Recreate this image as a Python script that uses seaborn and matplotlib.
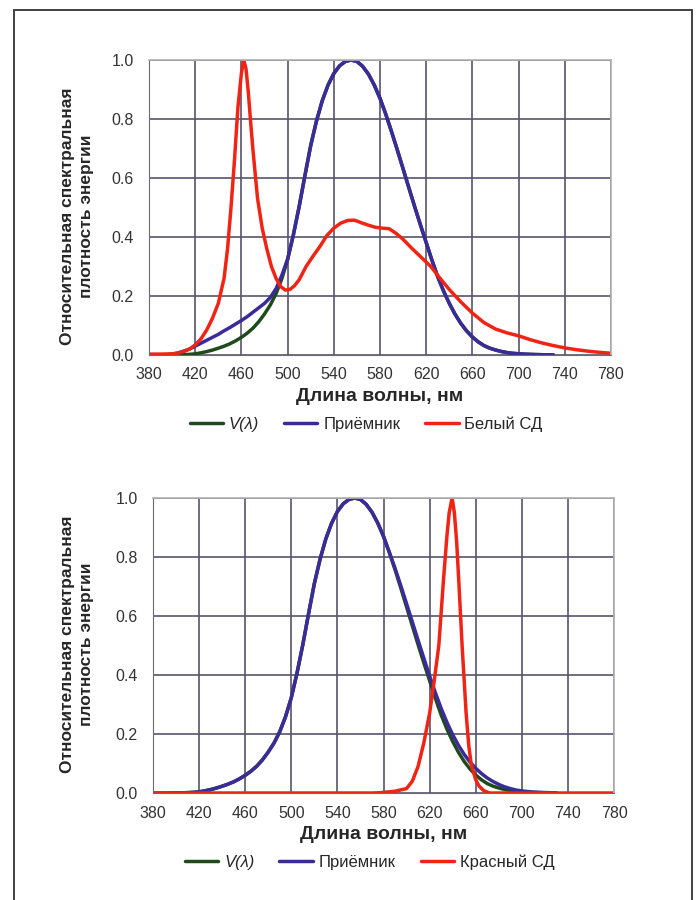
import numpy as np
import pandas as pd
import matplotlib
matplotlib.use("Agg")
import matplotlib.pyplot as plt
from matplotlib.patches import Rectangle
import seaborn as sns

# --- data ---
# V(lambda), photopic curve, 5 nm steps 380..730
wl_v = [380, 385, 390, 395, 400, 405, 410, 415, 420, 425, 430, 435, 440, 445,
        450, 455, 460, 465, 470, 475, 480, 485, 490, 495, 500, 505, 510, 515,
        520, 525, 530, 535, 540, 545, 550, 555, 560, 565, 570, 575, 580, 585,
        590, 595, 600, 605, 610, 615, 620, 625, 630, 635, 640, 645, 650, 655,
        660, 665, 670, 675, 680, 685, 690, 695, 700, 705, 710, 715, 720, 725, 730]
v_lambda = [0.0, 0.0001, 0.0001, 0.0002, 0.0004, 0.0006, 0.0012, 0.0022, 0.004,
            0.0073, 0.0116, 0.0168, 0.023, 0.0298, 0.038, 0.048, 0.06, 0.0739,
            0.091, 0.1126, 0.139, 0.1693, 0.208, 0.2586, 0.323, 0.4073, 0.503,
            0.6082, 0.71, 0.7932, 0.862, 0.9149, 0.954, 0.9803, 0.995, 1.0,
            0.995, 0.9786, 0.952, 0.9154, 0.87, 0.8163, 0.757, 0.6949, 0.631,
            0.5668, 0.503, 0.4412, 0.381, 0.321, 0.265, 0.217, 0.175, 0.1382,
            0.107, 0.0816, 0.061, 0.0446, 0.032, 0.0232, 0.017, 0.0119, 0.0082,
            0.0057, 0.0041, 0.0029, 0.0021, 0.0015, 0.001, 0.0007, 0.0005]

# receiver, top chart (extra response in the blue)
wl_rx = wl_v[3:]
rx_top = [0.0005, 0.003, 0.007, 0.013, 0.02, 0.03, 0.04, 0.05, 0.06, 0.07,
          0.082, 0.093, 0.105, 0.117, 0.13, 0.145, 0.16, 0.175, 0.195, 0.225,
          0.27, 0.325, 0.4073, 0.503, 0.6082, 0.71, 0.7932, 0.862, 0.9149,
          0.954, 0.9803, 0.995, 1.0, 0.995, 0.9786, 0.952, 0.9154, 0.87,
          0.8163, 0.757, 0.6949, 0.631, 0.5668, 0.503, 0.4412, 0.381, 0.321,
          0.265, 0.217, 0.175, 0.1382, 0.107, 0.0816, 0.061, 0.0446, 0.032,
          0.0232, 0.017, 0.0119, 0.0082, 0.0057, 0.0041, 0.0029, 0.0021,
          0.0015, 0.001, 0.0007, 0.0005]

# receiver, bottom chart (wider red tail)
rx_bottom = [0.0002, 0.0004, 0.0006, 0.0012, 0.0022, 0.004, 0.0073, 0.0116,
             0.0168, 0.023, 0.0298, 0.038, 0.048, 0.06, 0.0739, 0.091, 0.1126,
             0.139, 0.1693, 0.208, 0.2586, 0.323, 0.4073, 0.503, 0.6082, 0.71,
             0.7932, 0.862, 0.9149, 0.954, 0.9803, 0.995, 1.0, 0.995, 0.9786,
             0.952, 0.9154, 0.87, 0.8163, 0.762, 0.703, 0.642, 0.58, 0.518,
             0.457, 0.397, 0.34, 0.287, 0.24, 0.198, 0.162, 0.131, 0.105,
             0.084, 0.066, 0.051, 0.039, 0.029, 0.021, 0.015, 0.01, 0.007,
             0.005, 0.003, 0.002, 0.0015, 0.001, 0.0005]

# white LED
wl_white = [380, 390, 400, 405, 410, 415, 420, 425, 430, 435, 440, 445, 448,
            451, 454, 457, 460, 462, 464, 466, 468, 470, 474, 478, 482, 486,
            490, 494, 498, 502, 506, 510, 516, 522, 528, 534, 540, 546, 552,
            558, 564, 570, 576, 582, 588, 594, 600, 608, 616, 624, 632, 640,
            650, 660, 670, 680, 690, 700, 710, 720, 730, 740, 750, 760, 770, 780]
white_led = [0.003, 0.003, 0.004, 0.006, 0.012, 0.02, 0.034, 0.055, 0.085,
             0.125, 0.175, 0.26, 0.36, 0.5, 0.66, 0.84, 0.955, 1.0, 0.97, 0.89,
             0.79, 0.695, 0.53, 0.43, 0.36, 0.3, 0.26, 0.232, 0.22, 0.222,
             0.235, 0.255, 0.3, 0.335, 0.368, 0.405, 0.43, 0.447, 0.456, 0.457,
             0.448, 0.44, 0.433, 0.43, 0.428, 0.412, 0.392, 0.36, 0.33, 0.3,
             0.26, 0.222, 0.18, 0.142, 0.11, 0.088, 0.075, 0.065, 0.052, 0.041,
             0.032, 0.024, 0.018, 0.013, 0.009, 0.006]

# red LED
wl_red = [380, 570, 577, 590, 600, 605, 610, 615, 620, 624, 628, 632, 635,
          637, 639.5, 641.5, 643.5, 645.3, 648.2, 651.7, 654, 656, 660, 663,
          667, 672, 780]
red_led = [0.0, 0.0, 0.001, 0.006, 0.015, 0.04, 0.09, 0.17, 0.27, 0.38, 0.5,
           0.72, 0.87, 0.95, 1.0, 0.95, 0.85, 0.72, 0.5, 0.27, 0.16, 0.1,
           0.045, 0.023, 0.008, 0.0, 0.0]

x_ticks = list(range(380, 781, 40))
y_ticks = [0.0, 0.2, 0.4, 0.6, 0.8, 1.0]

GREEN = "#1f4a1c"
BLUE = "#3b2b98"
RED = "#f02414"
GRID = "#57546c"

sns.set_style("white")
plt.rcParams["font.family"] = ["Liberation Sans Narrow", "Liberation Sans", "DejaVu Sans"]

fig = plt.figure(figsize=(6.96, 9.0), dpi=100)
fig.patches.append(Rectangle((14 / 696, -0.01), (692 - 14) / 696, 1 - 10 / 900 + 0.01,
                             transform=fig.transFigure, fill=False,
                             edgecolor="#333333", linewidth=1.3))


def draw_panel(ax, rx, led_x, led_y, led_name):
    sns.lineplot(x=wl_v, y=v_lambda, color=GREEN, lw=2.5, ax=ax, label="V(λ)")
    sns.lineplot(x=wl_rx, y=rx, color=BLUE, lw=2.5, ax=ax, label="Приёмник")
    sns.lineplot(x=led_x, y=led_y, color=RED, lw=2.5, ax=ax, label=led_name)
    ax.set_xlim(380, 780)
    ax.set_ylim(0, 1.0)
    ax.set_xticks(x_ticks)
    ax.set_yticks(y_ticks)
    ax.set_yticklabels([f"{v:.1f}" for v in y_ticks])
    ax.grid(True, color=GRID, linewidth=1.2)
    ax.set_axisbelow(True)
    for side in ["top", "right"]:
        ax.spines[side].set_color("#b0b0b0")
        ax.spines[side].set_linewidth(1.2)
    ax.spines["left"].set_color("#6a6a78")
    ax.spines["bottom"].set_color("#6a6a78")
    ax.tick_params(axis="both", labelsize=11.5, colors="#333333", length=5,
                   width=1, color="#6a6a78", pad=6)
    ax.tick_params(axis="x", length=0, pad=9)
    ax.set_xlabel("Длина волны, нм", fontsize=14, fontweight="bold",
                  family=["Liberation Sans", "DejaVu Sans"], labelpad=4)
    ax.set_ylabel("")
    leg = ax.legend(loc="center", bbox_to_anchor=(0.47, -0.235), ncol=3,
                    frameon=False, fontsize=12, handlelength=2.0,
                    handletextpad=0.35, columnspacing=1.5)
    leg.get_texts()[0].set_style("italic")
    return ax


ax1 = fig.add_axes([149 / 696, 1 - 355 / 900, 462 / 696, 295 / 900])
draw_panel(ax1, rx_top, wl_white, white_led, "Белый СД")

ax2 = fig.add_axes([153 / 696, 1 - 793 / 900, 461 / 696, 295 / 900])
draw_panel(ax2, rx_bottom, wl_red, red_led, "Красный СД")

ylab = "Относительная спектральная\nплотность энергии"
for yc in [216, 644]:
    fig.text(77 / 696, 1 - yc / 900, ylab, rotation=90, ha="center", va="center",
             multialignment="center", fontsize=12.5, fontweight="bold",
             family=["Liberation Sans", "DejaVu Sans"], linespacing=1.3)

fig.savefig("out.png", dpi=100)
